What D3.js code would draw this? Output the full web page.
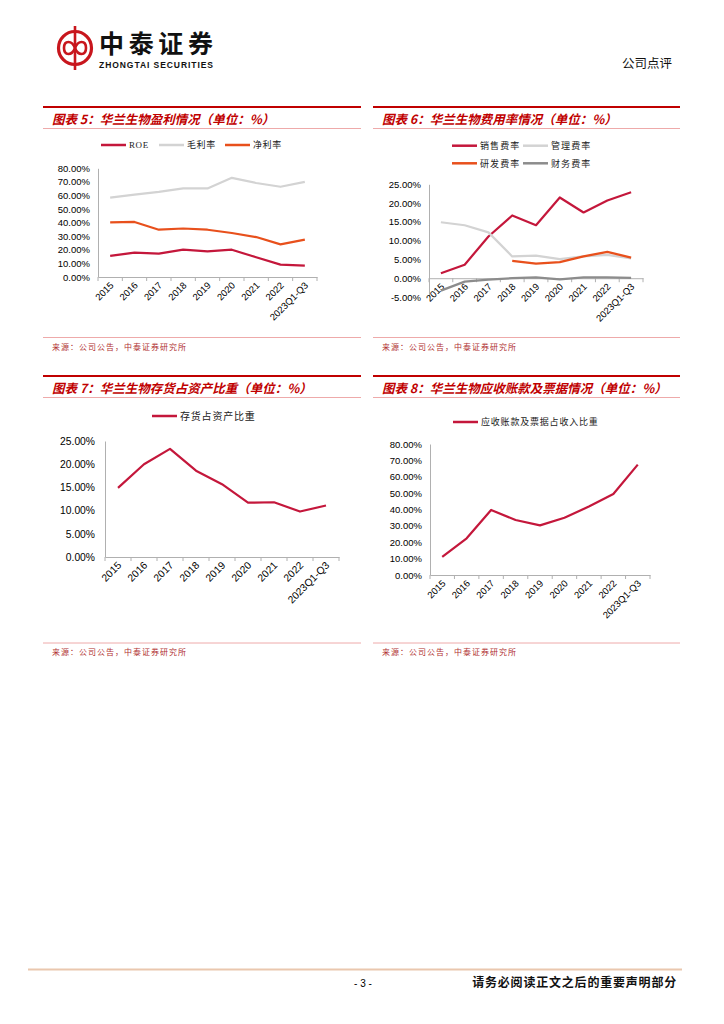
<!DOCTYPE html>
<html>
<head>
<meta charset="utf-8">
<script src="https://cdn.jsdelivr.net/npm/d3@7"></script>
<style>
	body { margin: 0; background: #fff; }
	svg { display: block; }
	.cn { font-family: 'Noto Sans CJK SC', sans-serif; }
	.num { font-family: 'Liberation Sans', Arial, sans-serif; }
</style>
</head>
<body>
<div id="page"></div>
<script>
/* * * * * * * * * * * * * *
 * * * * * * * * * * * * * */

const categories = ['2015', '2016', '2017', '2018', '2019', '2020', '2021', '2022', '2023Q1-Q3'];

// 图表5 盈利情况
const roe = [15.5, 17.9, 17.2, 20.1, 18.9, 20.1, 14.5, 9.1, 8.3];
const grossMargin = [58.4, 60.6, 62.6, 65.2, 65.2, 73.0, 69.2, 66.4, 70.0];
const netMargin = [40.2, 40.5, 34.8, 35.7, 34.8, 32.4, 29.4, 24.0, 27.5];

// 图表6 费用率情况
const sellingRate = [1.3, 3.6, 11.1, 16.7, 14.1, 21.5, 17.5, 20.7, 22.9];
const adminRate = [14.9, 14.1, 12.2, 5.8, 6.0, 5.1, 5.8, 6.2, 5.3];
const rdRate = [null, null, null, 4.6, 3.9, 4.3, 5.8, 7.0, 5.5];
const financeRate = [-3.3, -0.9, -0.35, 0.0, 0.2, -0.3, 0.2, 0.2, 0.1];

// 图表7 存货占资产比重
const inventoryRatio = [14.9, 20.0, 23.3, 18.6, 15.7, 11.7, 11.8, 9.8, 11.1];

// 图表8 应收账款及票据占收入比重
const receivableRatio = [11.0, 22.4, 39.7, 33.6, 30.3, 35.0, 41.8, 49.5, 67.4];

// y tick values
const ticks5 = [0, 10, 20, 30, 40, 50, 60, 70, 80];
const ticks6 = [-5, 0, 5, 10, 15, 20, 25];
const ticks7 = [0, 5, 10, 15, 20, 25];
const ticks8 = [0, 10, 20, 30, 40, 50, 60, 70, 80];

// colors
const RED = '#c4173b';
const LIGHTGRAY = '#d3d3d3';
const ORANGE = '#e8501c';
const DARKGRAY = '#8c8c8c';
const TITLE_RED = '#c00000';

/* * * * * * * * * * * * * *
 *        LineChart         *
 * * * * * * * * * * * * * */

class LineChart {
	constructor(svg, cfg) {
		this.svg = svg;
		this.cfg = cfg;
		this.initVis();
	}

	initVis() {
		let vis = this;
		let c = vis.cfg;

		vis.g = vis.svg.append('g');

		// panel frame: red top rule, pink rule under title, pink rule above source
		vis.g.append('line')
			.attr('x1', c.panel[0]).attr('x2', c.panel[1])
			.attr('y1', c.top).attr('y2', c.top)
			.attr('stroke', '#c00000').attr('stroke-width', 2.2);
		vis.g.append('line')
			.attr('x1', c.panel[0]).attr('x2', c.panel[1])
			.attr('y1', c.top + 21.5).attr('y2', c.top + 21.5)
			.attr('stroke', '#eeaaaa').attr('stroke-width', 1);
		vis.g.append('line')
			.attr('x1', c.panel[0]).attr('x2', c.panel[1])
			.attr('y1', c.sourceY).attr('y2', c.sourceY)
			.attr('stroke', '#eeaaaa').attr('stroke-width', 1);

		vis.g.append('text')
			.attr('class', 'cn')
			.attr('x', c.panel[0] + 9)
			.attr('y', c.top + 12)
			.attr('dy', '0.36em')
			.attr('fill', TITLE_RED)
			.style('font-size', '12.5px')
			.style('font-weight', 'bold')
			.style('font-style', 'italic')
			.text(c.title);

		vis.g.append('text')
			.attr('class', 'cn')
			.attr('x', c.panel[0] + 9)
			.attr('y', c.sourceY + 9.5)
			.attr('dy', '0.36em')
			.attr('fill', '#b03030')
			.style('font-size', '8px')
			.style('letter-spacing', '1px')
			.text('来源：公司公告，中泰证券研究所');

		// scales
		vis.x = d3.scaleBand().domain(categories).range(c.xRange).paddingInner(0).paddingOuter(0);
		vis.y = d3.scaleLinear().domain(c.yDomain).range(c.yRange);

		// y axis
		let yAxis = d3.axisLeft(vis.y)
			.tickValues(c.ticks)
			.tickSize(0)
			.tickPadding(c.yPad)
			.tickFormat((d) => d.toFixed(2) + '%');
		let yg = vis.g.append('g')
			.attr('transform', `translate(${c.xRange[0]},0)`)
			.call(yAxis);
		yg.select('.domain').attr('stroke', '#b0b0b0');
		yg.selectAll('text')
			.attr('class', 'num')
			.attr('fill', '#000')
			.style('font-size', c.tickFont + 'px');

		// x axis sits at the zero line
		let y0 = vis.y(0);
		let xAxis = d3.axisBottom(vis.x).tickSize(0).tickSizeOuter(0);
		let xg = vis.g.append('g')
			.attr('transform', `translate(0,${y0})`)
			.call(xAxis);
		xg.select('.domain').attr('stroke', '#b0b0b0');
		xg.selectAll('text')
			.attr('class', 'num')
			.attr('fill', '#000')
			.attr('y', 0)
			.attr('dy', 0)
			.attr('text-anchor', 'end')
			.attr('transform', 'translate(4,9) rotate(-45)')
			.style('font-size', c.tickFont + 'px');

		// tick marks on category boundaries
		let bounds = categories.map((d) => vis.x(d)).concat([c.xRange[1]]);
		vis.g.append('g')
			.selectAll('line')
			.data(bounds)
			.enter()
			.append('line')
			.attr('x1', (d) => d).attr('x2', (d) => d)
			.attr('y1', y0).attr('y2', y0 + 4)
			.attr('stroke', '#b0b0b0');

		// series
		let line = d3.line()
			.defined((d) => d != null)
			.x((d, i) => vis.x(categories[i]) + vis.x.bandwidth() / 2)
			.y((d) => vis.y(d));

		c.series.forEach((s) => {
			vis.g.append('path')
				.datum(s.values)
				.attr('fill', 'none')
				.attr('stroke', s.color)
				.attr('stroke-width', 2.2)
				.attr('stroke-linejoin', 'round')
				.attr('d', line);
		});

		vis.drawLegend();
	}

	drawLegend() {
		let vis = this;
		let c = vis.cfg;

		c.series.forEach((s, i) => {
			let pos = c.legend[i];
			vis.g.append('line')
				.attr('x1', pos[0]).attr('x2', pos[0] + 25)
				.attr('y1', pos[1]).attr('y2', pos[1])
				.attr('stroke', s.color)
				.attr('stroke-width', 2.5);
			vis.g.append('text')
				.attr('class', s.name === 'ROE' ? '' : 'cn')
				.attr('x', pos[0] + 28)
				.attr('y', pos[1])
				.attr('dy', '0.36em')
				.attr('fill', '#222')
				.style('font-family', s.name === 'ROE' ? "'Liberation Serif', serif" : null)
				.style('font-size', c.legendFont + 'px')
				.style('letter-spacing', c.legendSpacing + 'px')
				.text(s.name);
		});
	}
}

/* * * * * * * * * * * * * *
 *          page            *
 * * * * * * * * * * * * * */

const svg = d3.select('#page')
	.append('svg')
	.attr('width', 724)
	.attr('height', 1024);

svg.append('rect').attr('width', 724).attr('height', 1024).attr('fill', '#fff');

// header logo
const logo = svg.append('g').attr('transform', 'translate(75,48)');
logo.append('circle').attr('r', 16.5).attr('fill', 'none').attr('stroke', '#c8161d').attr('stroke-width', 3.2);
logo.append('line').attr('x1', 0).attr('x2', 0).attr('y1', -22).attr('y2', 22).attr('stroke', '#c8161d').attr('stroke-width', 2.6);
logo.append('path')
	.attr('d', 'M0,0 C-3,-8 -11,-8 -11,0 C-11,8 -3,8 0,0 C3,-8 11,-8 11,0 C11,8 3,8 0,0')
	.attr('fill', 'none')
	.attr('stroke', '#c8161d')
	.attr('stroke-width', 2.6);

svg.append('text')
	.attr('class', 'cn')
	.attr('x', 99)
	.attr('y', 53)
	.attr('fill', '#111')
	.style('font-size', '25px')
	.style('font-weight', 'bold')
	.attr('textLength', 114)
	.text('中泰证券');
svg.append('text')
	.attr('class', 'num')
	.attr('x', 99)
	.attr('y', 67.5)
	.attr('fill', '#111')
	.style('font-size', '8.5px')
	.style('font-weight', 'bold')
	.attr('textLength', 114)
	.text('ZHONGTAI SECURITIES');

svg.append('text')
	.attr('class', 'cn')
	.attr('x', 672)
	.attr('y', 63)
	.attr('dy', '0.36em')
	.attr('text-anchor', 'end')
	.attr('fill', '#111')
	.style('font-size', '12.5px')
	.text('公司点评');

// footer
svg.append('line')
	.attr('x1', 28).attr('x2', 682)
	.attr('y1', 969.5).attr('y2', 969.5)
	.attr('stroke', '#eac7ae').attr('stroke-width', 2);
svg.append('text')
	.attr('class', 'num')
	.attr('x', 363).attr('y', 983)
	.attr('dy', '0.36em')
	.attr('text-anchor', 'middle')
	.style('font-size', '10px')
	.text('- 3 -');
svg.append('text')
	.attr('class', 'cn')
	.attr('x', 677).attr('y', 983)
	.attr('dy', '0.36em')
	.attr('text-anchor', 'end')
	.attr('fill', '#111')
	.style('font-size', '12px')
	.style('font-weight', 'bold')
	.style('letter-spacing', '0.8px')
	.text('请务必阅读正文之后的重要声明部分');

// charts
new LineChart(svg, {
	panel: [43, 361], top: 107, sourceY: 337.5,
	title: '图表 5：华兰生物盈利情况（单位：%）',
	xRange: [98, 317], yDomain: [0, 80], yRange: [277, 168.3], ticks: ticks5,
	yPad: 8, tickFont: 9.5, legendFont: 9, legendSpacing: 0.6,
	series: [
		{ name: 'ROE', values: roe, color: RED },
		{ name: '毛利率', values: grossMargin, color: LIGHTGRAY },
		{ name: '净利率', values: netMargin, color: ORANGE }
	],
	legend: [[101, 145], [159, 145], [225, 145]]
});

new LineChart(svg, {
	panel: [373, 680], top: 107, sourceY: 337.5,
	title: '图表 6：华兰生物费用率情况（单位：%）',
	xRange: [429, 643], yDomain: [-5, 25], yRange: [297, 184.3], ticks: ticks6,
	yPad: 8, tickFont: 9.5, legendFont: 9, legendSpacing: 1.1,
	series: [
		{ name: '销售费率', values: sellingRate, color: RED },
		{ name: '管理费率', values: adminRate, color: LIGHTGRAY },
		{ name: '研发费率', values: rdRate, color: ORANGE },
		{ name: '财务费率', values: financeRate, color: DARKGRAY }
	],
	legend: [[452, 145.7], [523, 145.7], [452, 163.3], [523, 163.3]]
});

new LineChart(svg, {
	panel: [43, 361], top: 376, sourceY: 643,
	title: '图表 7：华兰生物存货占资产比重（单位：%）',
	xRange: [105, 339], yDomain: [0, 25], yRange: [557, 441], ticks: ticks7,
	yPad: 10, tickFont: 10.3, legendFont: 10, legendSpacing: 0.8,
	series: [
		{ name: '存货占资产比重', values: inventoryRatio, color: RED }
	],
	legend: [[152, 416]]
});

new LineChart(svg, {
	panel: [373, 680], top: 376, sourceY: 643,
	title: '图表 8：华兰生物应收账款及票据情况（单位：%）',
	xRange: [430, 650], yDomain: [0, 80], yRange: [575, 444], ticks: ticks8,
	yPad: 8, tickFont: 9.5, legendFont: 9, legendSpacing: 0.8,
	series: [
		{ name: '应收账款及票据占收入比重', values: receivableRatio, color: RED }
	],
	legend: [[453, 422]]
});
</script>
</body>
</html>
